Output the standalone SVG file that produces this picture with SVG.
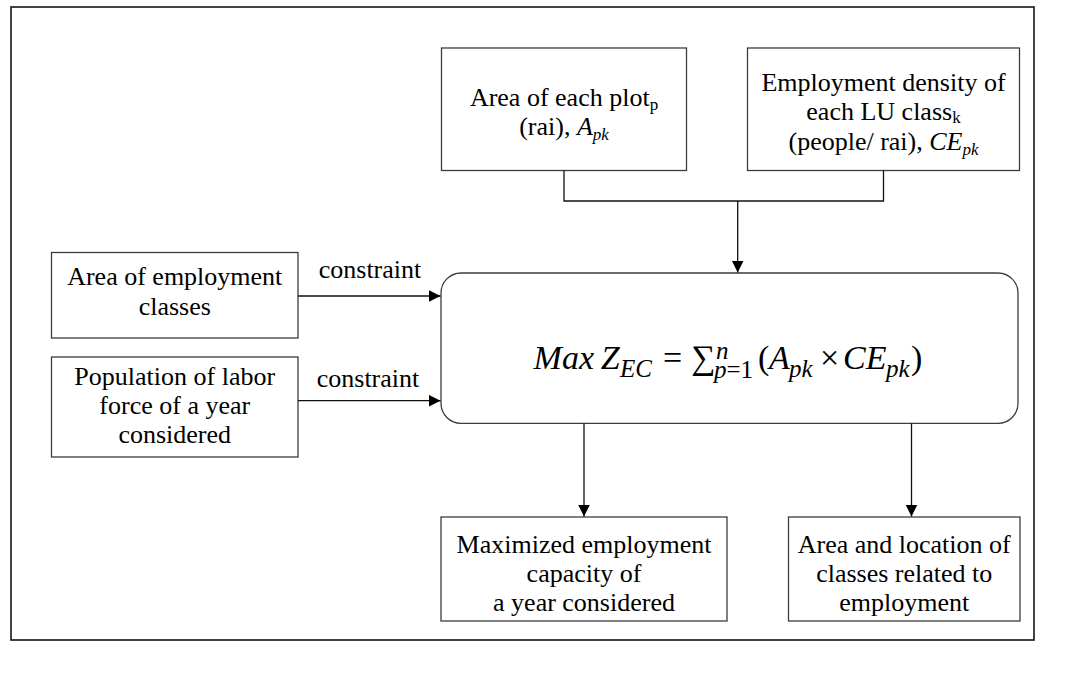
<svg xmlns="http://www.w3.org/2000/svg" width="1078" height="697" viewBox="0 0 1078 697">
  <style>
    .frame { fill: none; stroke: #222; stroke-width: 1.7; }
    .box { fill: #fff; stroke: #3c3c3c; stroke-width: 1.3; }
    .lbl { font-family: "Liberation Serif", "Times New Roman", serif; font-size: 26px; fill: #000; text-anchor: middle; }
    .it { font-style: italic; }
    .sub { font-size: 17px; }
    .eq { font-family: "Liberation Serif", "Times New Roman", serif; font-size: 34px; fill: #000; }
    .eqs { font-size: 25px; }
    .wire { fill: none; stroke: #111; stroke-width: 1.3; }
  </style>
  <defs>
    <marker id="arrow" markerWidth="12" markerHeight="12" refX="12" refY="6" orient="auto" markerUnits="userSpaceOnUse">
      <path d="M0,0 L12,6 L0,12 Z" fill="#000"/>
    </marker>
  </defs>

  <rect width="1078" height="697" fill="#fff"/>
  <!-- outer frame -->
  <rect class="frame" x="11" y="7" width="1023" height="633"/>

  <!-- inputs: plot area -->
  <g id="plot-area">
    <rect class="box" x="441.5" y="48" width="245" height="122.5"/>
    <text class="lbl" x="564" y="106">Area of each plot<tspan class="sub" dy="4">p</tspan></text>
    <text class="lbl" x="564" y="135">(rai), <tspan class="it">A</tspan><tspan class="it sub" dy="5">pk</tspan></text>
  </g>

  <!-- inputs: employment density -->
  <g id="employment-density">
    <rect class="box" x="747.5" y="48" width="272" height="122.5"/>
    <text class="lbl" x="883.5" y="91">Employment density of</text>
    <text class="lbl" x="883.5" y="120">each LU class<tspan class="sub" dy="3">k</tspan></text>
    <text class="lbl" x="883.5" y="150">(people/ rai), <tspan class="it">CE</tspan><tspan class="it sub" dy="5">pk</tspan></text>
  </g>

  <!-- constraint sources -->
  <g id="employment-classes">
    <rect class="box" x="51.5" y="252.5" width="246.5" height="85.5"/>
    <text class="lbl" x="174.75" y="285">Area of employment</text>
    <text class="lbl" x="174.75" y="315">classes</text>
  </g>

  <g id="labor-force">
    <rect class="box" x="51.5" y="357" width="246.5" height="100"/>
    <text class="lbl" x="174.75" y="385">Population of labor</text>
    <text class="lbl" x="174.75" y="414">force of a year</text>
    <text class="lbl" x="174.75" y="443">considered</text>
  </g>

  <!-- objective function -->
  <g id="objective">
    <rect class="box" x="441" y="273" width="577" height="150.3" rx="20" ry="20" stroke="#111"/>
    <text class="eq" y="369">
      <tspan class="it" x="533.6">Max</tspan>
      <tspan class="it" x="600.7">Z</tspan>
      <tspan class="it eqs" x="620" dy="8">EC</tspan>
      <tspan x="663" dy="-8">=</tspan>
      <tspan x="691">∑</tspan>
      <tspan class="it eqs" x="716" dy="-10">n</tspan>
      <tspan class="eqs" x="714" dy="19"><tspan class="it">p</tspan>=1</tspan>
      <tspan x="758" dy="-9">(</tspan>
      <tspan class="it" x="769">A</tspan>
      <tspan class="it eqs" x="789" dy="8">pk</tspan>
      <tspan x="820" dy="-8">×</tspan>
      <tspan class="it" x="843">CE</tspan>
      <tspan class="it eqs" x="886" dy="8">pk</tspan>
      <tspan x="911" dy="-8">)</tspan>
    </text>
  </g>

  <!-- outputs -->
  <g id="max-capacity">
    <rect class="box" x="441" y="517" width="286" height="104"/>
    <text class="lbl" x="584" y="553">Maximized employment</text>
    <text class="lbl" x="584" y="582">capacity of</text>
    <text class="lbl" x="584" y="611">a year considered</text>
  </g>

  <g id="class-location">
    <rect class="box" x="788.5" y="517" width="231.5" height="104"/>
    <text class="lbl" x="904.25" y="553">Area and location of</text>
    <text class="lbl" x="904.25" y="582">classes related to</text>
    <text class="lbl" x="904.25" y="611">employment</text>
  </g>

  <!-- connectors -->
  <g id="connectors">
    <path class="wire" d="M564,170.5 V201 H883.5 V170.5"/>
    <path class="wire" d="M737.7,201 V272.5" marker-end="url(#arrow)"/>
    <path class="wire" d="M298,296 H440.5" marker-end="url(#arrow)"/>
    <path class="wire" d="M298,400.7 H440.5" marker-end="url(#arrow)"/>
    <path class="wire" d="M584,423.3 V516.5" marker-end="url(#arrow)"/>
    <path class="wire" d="M911.5,423.3 V516.5" marker-end="url(#arrow)"/>
    <text class="lbl" x="370" y="278">constraint</text>
    <text class="lbl" x="368" y="387">constraint</text>
  </g>
</svg>
